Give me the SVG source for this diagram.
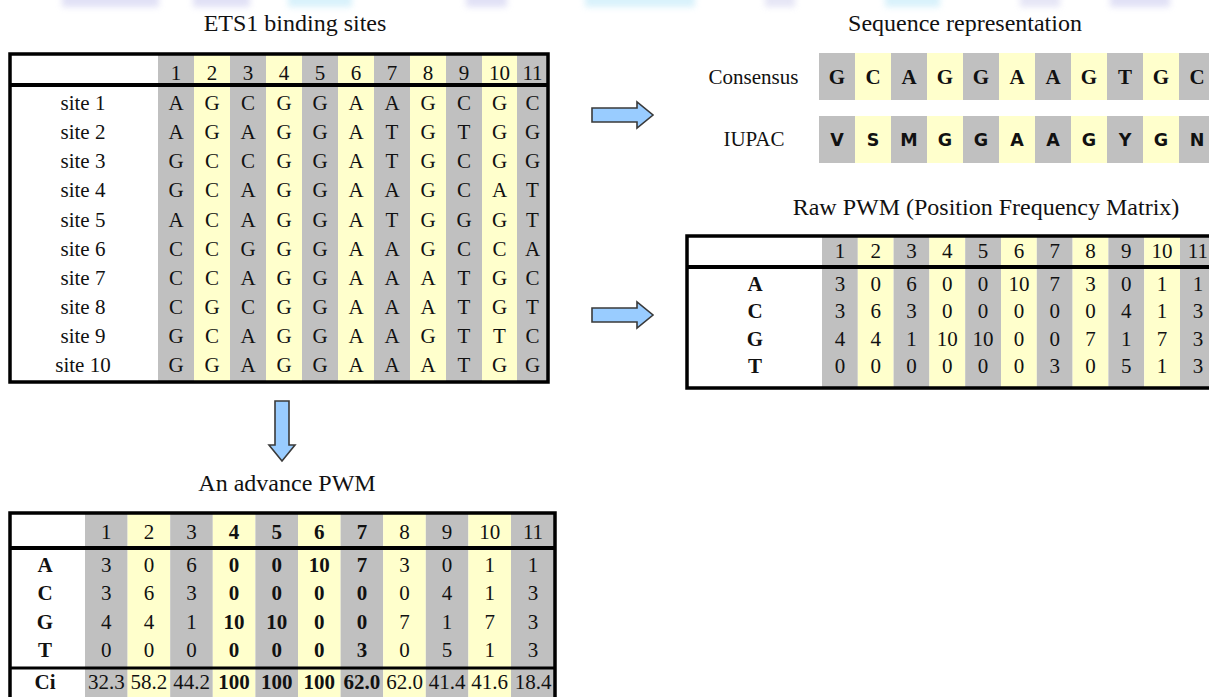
<svg xmlns="http://www.w3.org/2000/svg" width="1209" height="697" viewBox="0 0 1209 697">
<defs>
<style>
.t{font-family:"Liberation Serif","Times New Roman",serif;fill:#111;text-anchor:middle}
.title{font-size:24px}
.cell{font-size:21px}
.b{font-weight:bold}
.iu{font-family:"DejaVu Sans","Liberation Sans",sans-serif;font-weight:bold;font-size:17.5px;fill:#111;text-anchor:middle}
.g{fill:#c0c0c0}
.y{fill:#ffffcc}
.frame{fill:none;stroke:#000;stroke-width:3.5}
.sep{stroke:#000;stroke-width:4}
.sep3{stroke:#000;stroke-width:3}
.arrow{fill:#99ccff;stroke:#3a3a3a;stroke-width:1.6;stroke-linejoin:miter}
</style>
<filter id="blur" x="-20%" y="-200%" width="140%" height="500%"><feGaussianBlur stdDeviation="3"/></filter>
</defs>
<rect width="1209" height="697" fill="#fff"/>
<g id="banner" filter="url(#blur)" opacity="0.55">
<rect x="62" y="-6" width="97" height="13" fill="#c8c8ee"/>
<rect x="193" y="-6" width="57" height="13" fill="#c8c8ee"/>
<rect x="288" y="-6" width="64" height="13" fill="#b8e6f8"/>
<rect x="466" y="-6" width="41" height="13" fill="#c8c8ee"/>
<rect x="585" y="-6" width="110" height="13" fill="#b8e6f8"/>
<rect x="765" y="-6" width="30" height="13" fill="#d0d0ee"/>
<rect x="885" y="-6" width="55" height="13" fill="#b8e6f8"/>
<rect x="1020" y="-6" width="40" height="13" fill="#d0d0ee"/>
<rect x="1110" y="-6" width="60" height="13" fill="#c8c8ee"/>
</g>

<g id="title-ets1"><text class="t title" x="295" y="31">ETS1 binding sites</text></g>
<g id="title-sequence"><text class="t title" x="965" y="31">Sequence representation</text></g>
<g id="title-raw"><text class="t title" x="986" y="215">Raw PWM (Position Frequency Matrix)</text></g>
<g id="title-advance"><text class="t title" x="287" y="491">An advance PWM</text></g>

<g id="ets1-table">
<rect x="10" y="54" width="538" height="328" fill="#fff"/>
<rect class="g" x="158" y="55" width="36" height="326"/>
<rect class="y" x="194" y="55" width="36" height="326"/>
<rect class="g" x="230" y="55" width="36" height="326"/>
<rect class="y" x="266" y="55" width="36" height="326"/>
<rect class="g" x="302" y="55" width="36" height="326"/>
<rect class="y" x="338" y="55" width="36" height="326"/>
<rect class="g" x="374" y="55" width="36" height="326"/>
<rect class="y" x="410" y="55" width="36" height="326"/>
<rect class="g" x="446" y="55" width="36" height="326"/>
<rect class="y" x="482" y="55" width="35" height="326"/>
<rect class="g" x="517" y="55" width="31" height="326"/>
<line class="sep" x1="10" y1="85" x2="548" y2="85"/>
<rect class="frame" x="10" y="54" width="538" height="328"/>
<g class="t cell">
<text x="176" y="80">1</text><text x="212" y="80">2</text><text x="248" y="80">3</text><text x="284" y="80">4</text><text x="320" y="80">5</text><text x="356" y="80">6</text><text x="392" y="80">7</text><text x="428" y="80">8</text><text x="464" y="80">9</text><text x="499.5" y="80">10</text><text x="532.5" y="80">11</text>
<text x="83" y="110">site 1</text><text x="176" y="110">A</text><text x="212" y="110">G</text><text x="248" y="110">C</text><text x="284" y="110">G</text><text x="320" y="110">G</text><text x="356" y="110">A</text><text x="392" y="110">A</text><text x="428" y="110">G</text><text x="464" y="110">C</text><text x="499.5" y="110">G</text><text x="532.5" y="110">C</text>
<text x="83" y="139">site 2</text><text x="176" y="139">A</text><text x="212" y="139">G</text><text x="248" y="139">A</text><text x="284" y="139">G</text><text x="320" y="139">G</text><text x="356" y="139">A</text><text x="392" y="139">T</text><text x="428" y="139">G</text><text x="464" y="139">T</text><text x="499.5" y="139">G</text><text x="532.5" y="139">G</text>
<text x="83" y="168">site 3</text><text x="176" y="168">G</text><text x="212" y="168">C</text><text x="248" y="168">C</text><text x="284" y="168">G</text><text x="320" y="168">G</text><text x="356" y="168">A</text><text x="392" y="168">T</text><text x="428" y="168">G</text><text x="464" y="168">C</text><text x="499.5" y="168">G</text><text x="532.5" y="168">G</text>
<text x="83" y="197">site 4</text><text x="176" y="197">G</text><text x="212" y="197">C</text><text x="248" y="197">A</text><text x="284" y="197">G</text><text x="320" y="197">G</text><text x="356" y="197">A</text><text x="392" y="197">A</text><text x="428" y="197">G</text><text x="464" y="197">C</text><text x="499.5" y="197">A</text><text x="532.5" y="197">T</text>
<text x="83" y="227">site 5</text><text x="176" y="227">A</text><text x="212" y="227">C</text><text x="248" y="227">A</text><text x="284" y="227">G</text><text x="320" y="227">G</text><text x="356" y="227">A</text><text x="392" y="227">T</text><text x="428" y="227">G</text><text x="464" y="227">G</text><text x="499.5" y="227">G</text><text x="532.5" y="227">T</text>
<text x="83" y="256">site 6</text><text x="176" y="256">C</text><text x="212" y="256">C</text><text x="248" y="256">G</text><text x="284" y="256">G</text><text x="320" y="256">G</text><text x="356" y="256">A</text><text x="392" y="256">A</text><text x="428" y="256">G</text><text x="464" y="256">C</text><text x="499.5" y="256">C</text><text x="532.5" y="256">A</text>
<text x="83" y="285">site 7</text><text x="176" y="285">C</text><text x="212" y="285">C</text><text x="248" y="285">A</text><text x="284" y="285">G</text><text x="320" y="285">G</text><text x="356" y="285">A</text><text x="392" y="285">A</text><text x="428" y="285">A</text><text x="464" y="285">T</text><text x="499.5" y="285">G</text><text x="532.5" y="285">C</text>
<text x="83" y="314">site 8</text><text x="176" y="314">C</text><text x="212" y="314">G</text><text x="248" y="314">C</text><text x="284" y="314">G</text><text x="320" y="314">G</text><text x="356" y="314">A</text><text x="392" y="314">A</text><text x="428" y="314">A</text><text x="464" y="314">T</text><text x="499.5" y="314">G</text><text x="532.5" y="314">T</text>
<text x="83" y="343">site 9</text><text x="176" y="343">G</text><text x="212" y="343">C</text><text x="248" y="343">A</text><text x="284" y="343">G</text><text x="320" y="343">G</text><text x="356" y="343">A</text><text x="392" y="343">A</text><text x="428" y="343">G</text><text x="464" y="343">T</text><text x="499.5" y="343">T</text><text x="532.5" y="343">C</text>
<text x="83" y="372">site 10</text><text x="176" y="372">G</text><text x="212" y="372">G</text><text x="248" y="372">A</text><text x="284" y="372">G</text><text x="320" y="372">G</text><text x="356" y="372">A</text><text x="392" y="372">A</text><text x="428" y="372">A</text><text x="464" y="372">T</text><text x="499.5" y="372">G</text><text x="532.5" y="372">G</text>
</g>
</g>

<g id="sequence-representation">
<g>
<rect class="g" x="819" y="53" width="36" height="47"/><rect class="y" x="855" y="53" width="36" height="47"/><rect class="g" x="891" y="53" width="36" height="47"/><rect class="y" x="927" y="53" width="36" height="47"/><rect class="g" x="963" y="53" width="36" height="47"/><rect class="y" x="999" y="53" width="36" height="47"/><rect class="g" x="1035" y="53" width="36" height="47"/><rect class="y" x="1071" y="53" width="36" height="47"/><rect class="g" x="1107" y="53" width="36" height="47"/><rect class="y" x="1143" y="53" width="36" height="47"/><rect class="g" x="1179" y="53" width="36" height="47"/>
<rect class="g" x="819" y="116" width="36" height="47"/><rect class="y" x="855" y="116" width="36" height="47"/><rect class="g" x="891" y="116" width="36" height="47"/><rect class="y" x="927" y="116" width="36" height="47"/><rect class="g" x="963" y="116" width="36" height="47"/><rect class="y" x="999" y="116" width="36" height="47"/><rect class="g" x="1035" y="116" width="36" height="47"/><rect class="y" x="1071" y="116" width="36" height="47"/><rect class="g" x="1107" y="116" width="36" height="47"/><rect class="y" x="1143" y="116" width="36" height="47"/><rect class="g" x="1179" y="116" width="36" height="47"/>
</g>
<text class="t cell" x="753.5" y="84">Consensus</text>
<text class="t cell" x="754" y="146">IUPAC</text>
<g class="t cell b">
<text x="837" y="84">G</text><text x="873" y="84">C</text><text x="909" y="84">A</text><text x="945" y="84">G</text><text x="981" y="84">G</text><text x="1017" y="84">A</text><text x="1053" y="84">A</text><text x="1089" y="84">G</text><text x="1125" y="84">T</text><text x="1161" y="84">G</text><text x="1197" y="84">C</text>
</g>
<g class="iu">
<text x="837" y="146">V</text><text x="873" y="146">S</text><text x="909" y="146">M</text><text x="945" y="146">G</text><text x="981" y="146">G</text><text x="1017" y="146">A</text><text x="1053" y="146">A</text><text x="1089" y="146">G</text><text x="1125" y="146">Y</text><text x="1161" y="146">G</text><text x="1197" y="146">N</text>
</g>
</g>

<g id="raw-pwm">
<rect x="687" y="236" width="540" height="152" fill="#fff"/>
<rect class="g" x="822" y="237" width="35.8" height="150"/><rect class="y" x="857.8" y="237" width="35.8" height="150"/><rect class="g" x="893.6" y="237" width="35.8" height="150"/><rect class="y" x="929.4" y="237" width="35.8" height="150"/><rect class="g" x="965.2" y="237" width="35.8" height="150"/><rect class="y" x="1001" y="237" width="35.8" height="150"/><rect class="g" x="1036.8" y="237" width="35.8" height="150"/><rect class="y" x="1072.6" y="237" width="35.8" height="150"/><rect class="g" x="1108.4" y="237" width="35.8" height="150"/><rect class="y" x="1144.2" y="237" width="35.8" height="150"/><rect class="g" x="1180" y="237" width="35.8" height="150"/>
<line class="sep" x1="687" y1="267" x2="1227" y2="267"/>
<rect class="frame" x="687" y="236" width="540" height="152"/>
<g class="t cell">
<text x="839.9" y="258">1</text><text x="875.7" y="258">2</text><text x="911.5" y="258">3</text><text x="947.3" y="258">4</text><text x="983.1" y="258">5</text><text x="1018.9" y="258">6</text><text x="1054.7" y="258">7</text><text x="1090.5" y="258">8</text><text x="1126.3" y="258">9</text><text x="1162.1" y="258">10</text><text x="1197.9" y="258">11</text>
<text class="b" x="755" y="291">A</text><text x="839.9" y="291">3</text><text x="875.7" y="291">0</text><text x="911.5" y="291">6</text><text x="947.3" y="291">0</text><text x="983.1" y="291">0</text><text x="1018.9" y="291">10</text><text x="1054.7" y="291">7</text><text x="1090.5" y="291">3</text><text x="1126.3" y="291">0</text><text x="1162.1" y="291">1</text><text x="1197.9" y="291">1</text>
<text class="b" x="755" y="318">C</text><text x="839.9" y="318">3</text><text x="875.7" y="318">6</text><text x="911.5" y="318">3</text><text x="947.3" y="318">0</text><text x="983.1" y="318">0</text><text x="1018.9" y="318">0</text><text x="1054.7" y="318">0</text><text x="1090.5" y="318">0</text><text x="1126.3" y="318">4</text><text x="1162.1" y="318">1</text><text x="1197.9" y="318">3</text>
<text class="b" x="755" y="346">G</text><text x="839.9" y="346">4</text><text x="875.7" y="346">4</text><text x="911.5" y="346">1</text><text x="947.3" y="346">10</text><text x="983.1" y="346">10</text><text x="1018.9" y="346">0</text><text x="1054.7" y="346">0</text><text x="1090.5" y="346">7</text><text x="1126.3" y="346">1</text><text x="1162.1" y="346">7</text><text x="1197.9" y="346">3</text>
<text class="b" x="755" y="373">T</text><text x="839.9" y="373">0</text><text x="875.7" y="373">0</text><text x="911.5" y="373">0</text><text x="947.3" y="373">0</text><text x="983.1" y="373">0</text><text x="1018.9" y="373">0</text><text x="1054.7" y="373">3</text><text x="1090.5" y="373">0</text><text x="1126.3" y="373">5</text><text x="1162.1" y="373">1</text><text x="1197.9" y="373">3</text>
</g>
</g>

<g id="advance-pwm">
<rect x="10" y="513" width="545" height="200" fill="#fff"/>
<rect class="g" x="85" y="514" width="42.6" height="190"/><rect class="y" x="127.6" y="514" width="42.6" height="190"/><rect class="g" x="170.2" y="514" width="42.6" height="190"/><rect class="y" x="212.8" y="514" width="42.6" height="190"/><rect class="g" x="255.4" y="514" width="42.6" height="190"/><rect class="y" x="298" y="514" width="42.6" height="190"/><rect class="g" x="340.6" y="514" width="42.6" height="190"/><rect class="y" x="383.2" y="514" width="42.6" height="190"/><rect class="g" x="425.8" y="514" width="42.6" height="190"/><rect class="y" x="468.4" y="514" width="42.6" height="190"/><rect class="g" x="511" y="514" width="44" height="190"/>
<line class="sep" x1="10" y1="548" x2="555" y2="548"/>
<line class="sep3" x1="10" y1="668" x2="555" y2="668"/>
<rect class="frame" x="10" y="513" width="545" height="200"/>
<g class="t cell">
<text x="106.3" y="539">1</text><text x="148.9" y="539">2</text><text x="191.5" y="539">3</text><text class="b" x="234.1" y="539">4</text><text class="b" x="276.7" y="539">5</text><text class="b" x="319.3" y="539">6</text><text class="b" x="361.9" y="539">7</text><text x="404.5" y="539">8</text><text x="447.1" y="539">9</text><text x="489.7" y="539">10</text><text x="533" y="539">11</text>
<text class="b" x="45" y="572">A</text><text x="106.3" y="572">3</text><text x="148.9" y="572">0</text><text x="191.5" y="572">6</text><text class="b" x="234.1" y="572">0</text><text class="b" x="276.7" y="572">0</text><text class="b" x="319.3" y="572">10</text><text class="b" x="361.9" y="572">7</text><text x="404.5" y="572">3</text><text x="447.1" y="572">0</text><text x="489.7" y="572">1</text><text x="533" y="572">1</text>
<text class="b" x="45" y="600">C</text><text x="106.3" y="600">3</text><text x="148.9" y="600">6</text><text x="191.5" y="600">3</text><text class="b" x="234.1" y="600">0</text><text class="b" x="276.7" y="600">0</text><text class="b" x="319.3" y="600">0</text><text class="b" x="361.9" y="600">0</text><text x="404.5" y="600">0</text><text x="447.1" y="600">4</text><text x="489.7" y="600">1</text><text x="533" y="600">3</text>
<text class="b" x="45" y="629">G</text><text x="106.3" y="629">4</text><text x="148.9" y="629">4</text><text x="191.5" y="629">1</text><text class="b" x="234.1" y="629">10</text><text class="b" x="276.7" y="629">10</text><text class="b" x="319.3" y="629">0</text><text class="b" x="361.9" y="629">0</text><text x="404.5" y="629">7</text><text x="447.1" y="629">1</text><text x="489.7" y="629">7</text><text x="533" y="629">3</text>
<text class="b" x="45" y="657">T</text><text x="106.3" y="657">0</text><text x="148.9" y="657">0</text><text x="191.5" y="657">0</text><text class="b" x="234.1" y="657">0</text><text class="b" x="276.7" y="657">0</text><text class="b" x="319.3" y="657">0</text><text class="b" x="361.9" y="657">3</text><text x="404.5" y="657">0</text><text x="447.1" y="657">5</text><text x="489.7" y="657">1</text><text x="533" y="657">3</text>
<text class="b" x="45" y="689">Ci</text><text x="106.3" y="689">32.3</text><text x="148.9" y="689">58.2</text><text x="191.5" y="689">44.2</text><text class="b" x="234.1" y="689">100</text><text class="b" x="276.7" y="689">100</text><text class="b" x="319.3" y="689">100</text><text class="b" x="361.9" y="689">62.0</text><text x="404.5" y="689">62.0</text><text x="447.1" y="689">41.4</text><text x="489.7" y="689">41.6</text><text x="533" y="689">18.4</text>
</g>
</g>

<g id="connectors">
<path class="arrow" d="M592,108 H637 V102 L653,115 L637,128 V122 H592 Z"/>
<path class="arrow" d="M592,308 H637 V302 L653,315 L637,328 V322 H592 Z"/>
<path class="arrow" d="M275,401 V445 H269 L282,461 L295,445 H289 V401 Z"/>
</g>
</svg>
